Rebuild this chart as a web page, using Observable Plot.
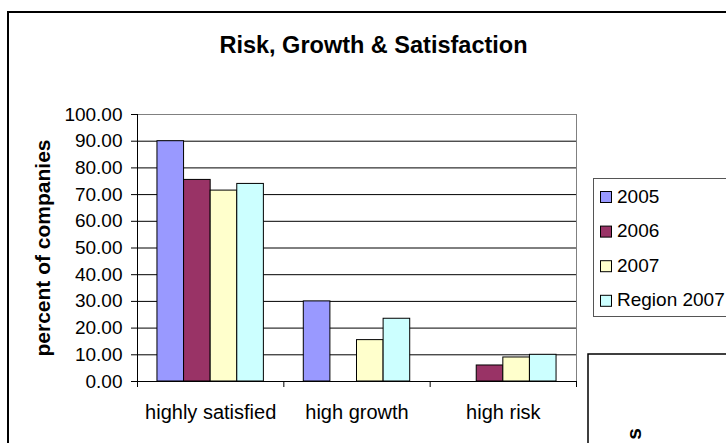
<!DOCTYPE html>
<html>
<head>
<meta charset="utf-8">
<script src="https://cdn.jsdelivr.net/npm/d3@7"></script>
<script src="https://cdn.jsdelivr.net/npm/@observablehq/plot@0.6"></script>
<style>
  html, body { margin: 0; padding: 0; background: #fff; }
  #chart { position: relative; width: 726px; height: 443px; overflow: hidden;
           font-family: "Liberation Sans", Arial, sans-serif; }
  #chart svg { position: absolute; left: 0; top: 0; overflow: visible; }
</style>
</head>
<body>
<div id="chart"></div>
<script>
// Survey results: share of companies per category, by year
const categories = ["highly satisfied", "high growth", "high risk"];
const series = ["2005", "2006", "2007", "Region 2007"];
const values2005 = [90, 30, null];
const values2006 = [75.5, null, 6];
const values2007 = [71.5, 15.5, 9];
const valuesRegion2007 = [74, 23.5, 10];
const seriesColors = ["#9999ff", "#993366", "#ffffcc", "#ccffff"];
const yTicks = [0, 10, 20, 30, 40, 50, 60, 70, 80, 90, 100];
const titleText = "Risk, Growth & Satisfaction";
const yLabelText = "percent of companies";
const neighbourLabelText = "s";

const W = 726, H = 443;
const FONT = '"Liberation Sans", Arial, sans-serif';

// Clustered layout: each category occupies one unit on x; bars share it with a 150% gap
const seriesValues = [values2005, values2006, values2007, valuesRegion2007];
const inner = d3.scaleBand().domain(series).range([0, 1]).paddingInner(0).paddingOuter(0.75);
const rows = [];
categories.forEach((c, i) => {
  series.forEach((s, j) => {
    const v = seriesValues[j][i];
    if (v == null) return;
    rows.push({category: c, series: s, value: v, x1: i + inner(s), x2: i + inner(s) + inner.bandwidth()});
  });
});

const gridTicks = yTicks.filter(t => t > 0 && t < 100);
const boundaries = d3.range(0, categories.length + 1);

const plot = Plot.plot({
  width: W,
  height: H,
  marginLeft: 137,
  marginRight: 150,
  marginTop: 114,
  marginBottom: 62,
  style: {fontFamily: FONT, fontSize: "19px", color: "#000", background: "transparent"},
  x: {domain: [0, categories.length], axis: null},
  y: {domain: [0, 100], ticks: yTicks, tickFormat: d3.format(".2f"), tickSize: 6, tickPadding: 9, label: null},
  color: {domain: series, range: seriesColors},
  marks: [
    Plot.ruleY(gridTicks, {stroke: "#000", strokeWidth: 1}),
    Plot.frame({stroke: "#808080"}),
    Plot.rectY(rows, {x1: "x1", x2: "x2", y1: () => 0, y2: "value", fill: "series", stroke: "#000", strokeWidth: 1}),
    Plot.ruleX([0], {stroke: "#000"}),
    Plot.ruleX(boundaries, {y1: () => 0, y2: () => 0, insetBottom: -6, stroke: "#000"}),
    Plot.ruleY([0], {stroke: "#000"}),
    Plot.text(categories, {x: (d, i) => i + 0.5, y: () => 0, text: d => d, dy: 37, lineAnchor: "bottom", fontSize: 20, fill: "#000"})
  ]
});

const chart = document.getElementById("chart");

// Sheet-level decorations drawn beneath and above the plot
const under = d3.create("svg").attr("width", W).attr("height", H);
under.append("rect").attr("x", 8).attr("y", 12).attr("width", 900).attr("height", 700)
  .attr("fill", "#fff").attr("stroke", "#000").attr("stroke-width", 2);
chart.appendChild(under.node());
chart.appendChild(plot);

const over = d3.create("svg").attr("width", W).attr("height", H).style("font-family", FONT);

over.append("text").attr("x", 373.5).attr("y", 53).attr("text-anchor", "middle")
  .attr("font-size", 23.5).attr("font-weight", "bold").attr("fill", "#000").text(titleText);

over.append("text").attr("transform", "translate(50,248) rotate(-90)").attr("text-anchor", "middle")
  .attr("font-size", 21).attr("font-weight", "bold").attr("fill", "#000").text(yLabelText);

// Legend
const legend = over.append("g");
legend.append("rect").attr("x", 593.5).attr("y", 178.5).attr("width", 200).attr("height", 138)
  .attr("fill", "#fff").attr("stroke", "#555").attr("stroke-width", 1);
series.forEach((s, j) => {
  const base = 202.5 + j * 34.6;
  legend.append("rect").attr("x", 600.5).attr("y", base - 11).attr("width", 11).attr("height", 11)
    .attr("fill", seriesColors[j]).attr("stroke", "#000").attr("stroke-width", 1);
  legend.append("text").attr("x", 617).attr("y", base).attr("font-size", 19).attr("fill", "#000").text(s);
});

// Neighbouring chart on the sheet, with the visible end of its axis title
over.append("rect").attr("x", 588).attr("y", 354).attr("width", 300).attr("height", 300)
  .attr("fill", "#fff").attr("stroke", "#000").attr("stroke-width", 1.5);
over.append("text").attr("transform", "translate(641,428) rotate(-90)").attr("text-anchor", "end")
  .attr("font-size", 21).attr("font-weight", "bold").attr("fill", "#000").text(neighbourLabelText);

chart.appendChild(over.node());
</script>
</body>
</html>
